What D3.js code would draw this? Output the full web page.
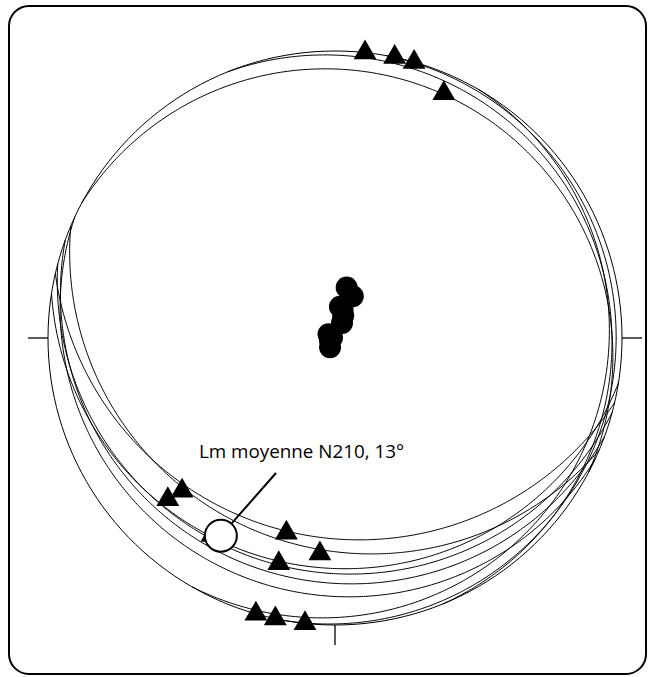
<!DOCTYPE html>
<html>
<head>
<meta charset="utf-8">
<script src="https://cdn.jsdelivr.net/npm/d3@7"></script>
<style>
  html, body { margin: 0; padding: 0; background: #fff; }
  svg { display: block; }
</style>
</head>
<body>
<div id="chart"></div>
<script>
// Foliation planes: dip direction (deg) and dip (deg)
const planeDipDir = [193, 203, 189, 195, 200, 205, 120, 68, 28, 100];
const planeDip    = [20.5, 18, 12.6, 11.6, 9.5, 6.6, 3, 2.2, 4.2, 1.2];

// Mineral lineations: trend (deg) and plunge (deg)
const linTrend  = [6, 12, 16, 24, 226, 225, 212, 194, 184, 194, 196, 192, 186];
const linPlunge = [0, 0, 0, 4, 12, 16, 12, 20, 16, 12, 0, 0, 0];

// Mean lineation
const meanTrend = 210;
const meanPlunge = 13;
const meanLabel = "Lm moyenne N210, 13°";

// Cardinal ticks drawn on the primitive
const tickAzimuths = [90, 180, 270];

const W = 649, H = 677;
const cx = 335, cy = 338, R = 287;

const svg = d3.select("#chart").append("svg")
  .attr("width", W).attr("height", H);

// Frame
svg.append("rect")
  .attr("x", 9).attr("y", 6)
  .attr("width", 637).attr("height", 668)
  .attr("rx", 20).attr("ry", 20)
  .attr("fill", "#fff").attr("stroke", "#000").attr("stroke-width", 2);

// Lower-hemisphere equal-angle (Wulff) net; view centred on the nadir
const projection = d3.geoStereographic()
  .scale(R)
  .translate([cx, cy])
  .clipAngle(90)
  .precision(0.2);
const path = d3.geoPath(projection);

const rad = Math.PI / 180, deg = 180 / Math.PI;
// trend/plunge of a downward line -> lon/lat around the view centre
function toGeo(trend, plunge) {
  const c = (90 - plunge) * rad, t = trend * rad;
  const lat = Math.asin(Math.sin(c) * Math.cos(t)) * deg;
  const lon = Math.atan2(Math.sin(t) * Math.sin(c), Math.cos(c)) * deg;
  return [lon, lat];
}

// Primitive circle
svg.append("path")
  .datum({ type: "Sphere" })
  .attr("d", path)
  .attr("fill", "none").attr("stroke", "#000").attr("stroke-width", 1);

// Ticks
const centre = projection(toGeo(0, 90));
tickAzimuths.forEach(az => {
  const p = projection(toGeo(az, 0));
  const dx = p[0] - centre[0], dy = p[1] - centre[1];
  const len = Math.hypot(dx, dy);
  svg.append("line")
    .attr("x1", p[0]).attr("y1", p[1])
    .attr("x2", p[0] + dx / len * 20).attr("y2", p[1] + dy / len * 20)
    .attr("stroke", "#000").attr("stroke-width", 1.3);
});

// Great circles: circle of 90 deg about each pole, clipped to the lower hemisphere
const planes = planeDipDir.map((dd, i) => ({ dd, dip: planeDip[i] }));
const gc = svg.append("g").attr("fill", "none").attr("stroke", "#000").attr("stroke-width", 1);
planes.forEach(pl => {
  const pole = toGeo(pl.dd + 180, 90 - pl.dip);
  const ring = d3.geoCircle().center(pole).radius(90).precision(0.5)().coordinates[0];
  gc.append("path").attr("d", path({ type: "LineString", coordinates: ring }));
});

// Poles to foliation
svg.append("g").selectAll("circle")
  .data(planes)
  .join("circle")
  .attr("transform", d => `translate(${projection(toGeo(d.dd + 180, 90 - d.dip))})`)
  .attr("r", 11)
  .attr("fill", "#000");

// Lineations
const lins = linTrend.map((t, i) => ({ t, p: linPlunge[i] }));
const tri = d3.symbol(d3.symbolTriangle, 226);
svg.append("g").selectAll("path")
  .data(lins)
  .join("path")
  .attr("d", tri)
  .attr("transform", d => `translate(${projection(toGeo(d.t, d.p))})`)
  .attr("fill", "#000");

// Mean lineation with its label
const m = projection(toGeo(meanTrend, meanPlunge));
const labelX = 199, labelY = 458;
const leadEnd = [276, 473];
const ldx = leadEnd[0] - m[0], ldy = leadEnd[1] - m[1], ll = Math.hypot(ldx, ldy);
svg.append("line")
  .attr("x1", m[0] + ldx / ll * 16).attr("y1", m[1] + ldy / ll * 16)
  .attr("x2", leadEnd[0]).attr("y2", leadEnd[1])
  .attr("stroke", "#000").attr("stroke-width", 2);
svg.append("circle")
  .attr("cx", m[0]).attr("cy", m[1]).attr("r", 16)
  .attr("fill", "#fff").attr("stroke", "#000").attr("stroke-width", 2);
svg.append("text")
  .attr("x", labelX).attr("y", labelY)
  .attr("font-family", "'Open Sans', 'Noto Sans', sans-serif")
  .attr("font-size", 18.5)
  .attr("textLength", 205)
  .attr("lengthAdjust", "spacingAndGlyphs")
  .attr("fill", "#000")
  .text(meanLabel);
</script>
</body>
</html>
